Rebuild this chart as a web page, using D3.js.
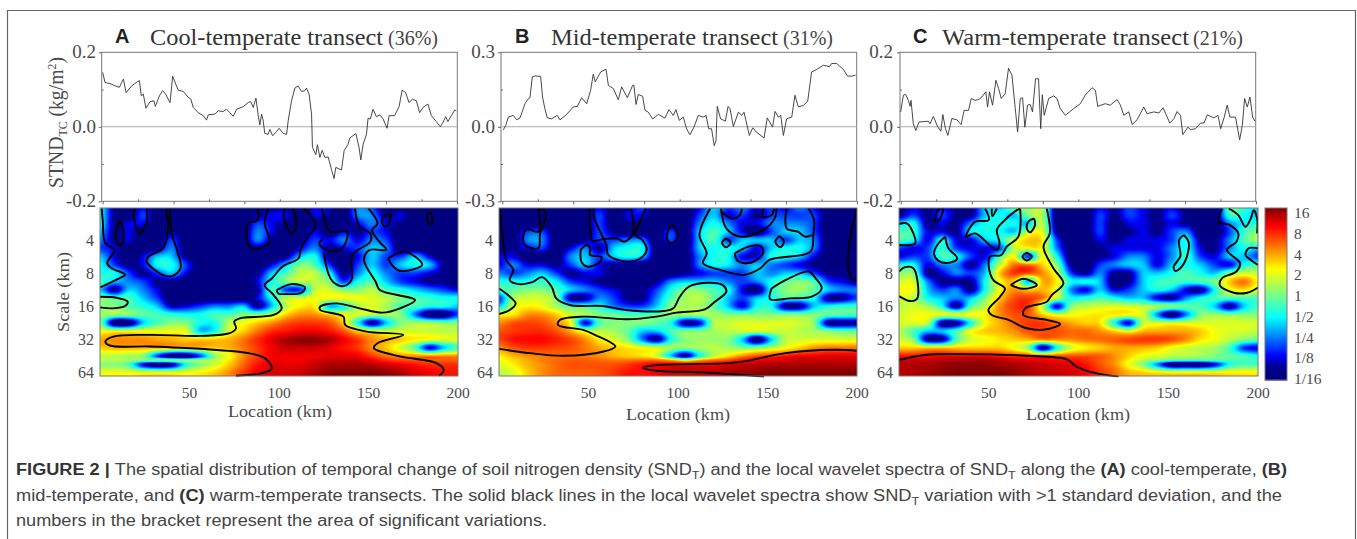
<!DOCTYPE html>
<html><head><meta charset="utf-8">
<script src="https://cdnjs.cloudflare.com/ajax/libs/d3/7.8.5/d3.min.js"></script>
<style>html,body{margin:0;background:#fff;overflow:hidden}svg{display:block}
text{fill:#4a4a4a}.serif{font-family:"Liberation Serif",serif}.sans{font-family:"Liberation Sans",Arial,sans-serif}</style>
</head><body><svg id="fig" width="1357" height="539"></svg>
<script>
// ---------- line series: location (km) and STND_TC value ----------
const locA=[0,1.3,4.1,7,9.4,10.7,11.7,13.2,16.4,19.5,20.7,21.8,22.9,24.4,26.7,28.9,29.7,32,33.8,35.5,38,39.5,41.2,42.7,45.5,48.3,49.8,51.1,53.9,56.8,58.6,59.6,63.3,65.2,68,69.9,71.8,73.7,75.6,79.3,82.1,83.5,85,86.5,87.8,88.7,89.7,90.6,91.5,93.4,94.4,95.9,98.1,99.6,101.9,103.8,104.7,106.6,108.5,110.3,112.2,114.1,115,116.5,117.9,118.4,120.3,121.2,122.6,123.9,125.4,127.3,129.1,130.6,131.6,134.8,136.3,138.5,139.5,142.9,144.7,145.7,147,148.9,149.8,151.1,152.6,154.5,156.4,158.3,160.5,161.7,164.8,167.3,169,171,172.9,174.8,177.1,178.9,180.8,183.6,185.5,188.3,190.6,192.1,193.6,194.9,196.8,198.7,199.6];
const valA=[.146,.119,.116,.110,.106,.119,.128,.092,.110,.121,.124,.083,.088,.050,.067,.070,.055,.083,.097,.088,.065,.136,.115,.098,.095,.079,.074,.052,.038,.030,.018,.032,.034,.043,.041,.047,.038,.028,.047,.054,.065,.068,.052,.077,.030,.005,.034,.016,-.018,-.020,-.007,-.024,-.013,-.004,-.018,-.020,.016,.070,.104,.110,.095,.097,.104,.088,.034,-.055,-.075,-.048,-.082,-.063,-.082,-.081,-.114,-.139,-.109,-.116,-.064,-.047,-.030,-.018,-.055,-.089,-.047,-.020,.023,.021,.047,.027,.032,.021,-.004,.030,.030,.054,.098,.092,.065,.074,.070,.038,.052,.061,.030,.014,0,.012,.027,.014,.030,.045,.043];
const locB=[.6,1.9,3.4,6.2,8.1,10,12.8,14.7,15.6,16.9,18.4,21.6,22.7,24,25.4,27.8,31,32.5,36.3,40,42.3,44.7,47.6,49.8,51.3,52.4,55.5,58.5,59.8,62.6,65.4,67.3,70.5,73.5,74.2,75.4,76.7,79.1,80.5,82.3,84.8,88,91.7,94,96.4,97.9,99.8,102.1,103.9,105.8,108.1,110.5,113.3,114.9,116.4,118,119.5,120.5,121.2,123.1,125.8,127.3,128.4,130.3,133.1,135,136.3,139.3,141.2,143.4,147.6,149.4,152.4,153.8,155.6,157,158.5,160.3,163.2,165,166.9,169.7,172.2,174.4,177.3,181,184.4,185.7,188.5,192.3,194.7,197,199.2];
const valB=[-.012,.005,.039,.046,.028,.036,.093,.113,.117,.201,.205,.203,.120,.073,.036,.032,.046,.028,.050,.080,.082,.117,.093,.147,.212,.181,.221,.232,.167,.154,.109,.161,.117,.167,.167,.090,.130,.123,.066,.059,.032,.050,.035,.069,.046,.069,.026,.039,-.008,-.032,-.001,.046,.039,.046,-.008,-.008,-.076,-.055,.082,.032,.023,.082,.073,.001,.059,.046,.059,-.035,-.004,-.022,-.045,.036,-.001,.062,.039,.046,-.035,.032,.039,.127,.080,.086,.103,.221,.231,.248,.242,.255,.255,.231,.204,.204,.208];
const locC=[0,1.5,2.8,4.3,5.3,5.8,7.1,8.5,10.3,15.6,16.5,18.4,20.7,22.6,23.7,25.2,26.5,28.8,31.6,34,35.7,38.2,39.7,41.9,43.8,45.7,47.9,48.9,50,51.7,53.6,55.1,56.6,58.8,60.7,62.6,64.5,65.8,67.3,68.6,69.9,71.4,72.9,74.2,75.9,77.6,78.8,79.7,80.8,83.3,86.1,88,89.8,92.7,97.4,101.1,103.9,107.7,109.6,110.9,115.2,118,121.8,123.7,125.6,128.4,130.3,133.1,136.8,138.7,142.5,145.3,147.7,151.5,153.8,155.6,157.5,158.8,161.7,163.2,166,168.8,170.7,172.6,176.3,178.6,180.1,182,183.8,185.3,188.5,190.8,192.3,193.6,195.1,196.6,198.1,199.4];
const valC=[.040,.085,.087,.071,.055,.071,.008,-.010,.013,.015,.008,.028,.001,-.012,.033,-.005,-.023,.022,.019,.006,.044,.044,.076,.071,.073,.080,.094,.053,.094,.058,.125,.103,.076,.089,.157,.139,.049,-.014,.076,.078,-.001,.058,.060,.040,.129,.129,-.005,.086,.031,.076,.083,.076,.049,.031,.049,.062,.085,.105,.098,.055,.062,.058,.073,.058,.031,.040,.006,.019,.053,.035,.040,.037,.051,.010,.022,.041,.031,-.021,-.001,-.008,-.005,.010,.010,.032,.024,.031,-.005,.024,.058,.026,.026,-.035,.004,.076,.053,.080,.026,.015];

// ---------- wavelet power: log2(power), rows by log2(scale), columns by location ----------
const gridLoc=[0,8,16,24,32,40,48,56,64,72,80,88,96,104,112,120,128,136,144,152,160,168,176,184,192,200];
const gridLog2Scale=[1,1.25,1.5,1.75,2,2.25,2.5,2.75,3,3.25,3.5,3.75,4,4.25,4.5,4.75,5,5.25,5.5,5.625,5.75,6,6.25];
const powerA=[
[-1,-3.5,-4,-3,-4,-4,-4,-4,-4,-4,-4,-3.5,-3.5,-3.5,-4,-3,-3,-4,-2,-2.5,-4,-4,-4,-4,-4,-4],
[-1,-3.5,-4,-2.5,-4,-4,-4,-4,-4,-4,-4,-3.5,-3,-3,-4,-3,-3.5,-4,-2,-2,-3.5,-3,-4,-3.5,-4,-4],
[-1,-3.5,-3,-3,-4,-4,-4,-4,-4,-4,-4,-2.5,-3,-3.5,-4,-3.5,-4,-4,-3,-2,-3,-3.5,-4,-3.5,-4,-4],
[-1.5,-3.5,-3,-4,-4,-3.5,-4,-4,-4,-4,-4,-2,-3,-4,-4,-3,-4,-3,-3.5,-2.5,-3,-4,-4,-4,-4,-4],
[-2,-3.5,-3,-4,-4,-2.5,-4,-4,-4,-4,-4,-2,-3.5,-4,-3.5,-2.5,-3,-2,-3,-2,-2.5,-4,-4,-4,-4,-4],
[-2.5,-3,-4,-4,-3.5,-2,-4,-4,-4,-4,-4,-3.5,-4,-4,-3,-2,-3.5,-3,-2.5,-1.5,-2,-4,-4,-4,-4,-4],
[-1.5,-3,-4,-3,-1.5,-1.5,-3.5,-4,-4,-4,-4,-4,-4,-3.5,-1.5,-1,-3.5,-4,-3,-1.5,-2.5,-2.5,-1.5,-3,-4,-4],
[-1,-2.5,-3.5,-3,-1,-1,-2.5,-4,-4,-4,-4,-4,-3,-1.5,0,-.5,-2.5,-4,-2.5,-1.5,-2.5,-1.5,-1,-1.5,-3.5,-4],
[-1,-1,-2.5,-3.5,-2.5,-1.5,-3,-4,-4,-4,-4,-3.5,-1.5,-.5,.5,.5,-1,-3.5,-2,-1,-2,-2.5,-2.5,-3,-3.5,-4],
[-.5,-1.5,-2,-2.5,-3.5,-3.5,-4,-4,-4,-4,-4,-3,-1,0,.5,.5,0,-2.5,-1,-.5,-1.5,-2.5,-3,-3.5,-3.5,-4],
[-1.5,-3.5,-1.5,-2,-3,-4,-4,-4,-4,-4,-4,-3.5,-.5,-2.5,-2.5,.5,.7,0,0,.5,-.5,-1,-1.5,-2,-2.5,-3],
[0,-.5,-.5,-1.5,-2.5,-4,-4,-4,-4,-4,-4,-3,-1,.5,.7,1,1,1,1,.8,.5,0,-.5,-.7,-1,-1],
[0,0,-.5,-.8,-1.5,-3.2,-3,-2.5,-2,-2,-1.5,-3.5,-1.5,.5,1.2,1.2,-1.5,-1,.3,.8,.3,-.5,-.5,-1,-1,-1.5],
[.2,.2,0,-.3,-.5,-.8,-1,-1,-.5,-.5,0,0,.5,1.5,2,2,1.5,1,.7,.5,.3,0,-2,-4,-4,-2.5],
[0,-4,-4,-1.5,-.5,0,0,-1,-1,.5,1,1.5,2,2.5,2.7,2.7,2.5,1.5,-1,-3.5,-1.5,0,.3,.3,0,0],
[1,1,1,1,1,1,.8,-1.5,-1,.8,1.5,2.2,2.8,3,3.2,3.2,3,2.5,1.5,1,.7,.7,.7,.6,.5,.5],
[1.8,2,2,2,1.8,1.7,1.5,1.5,1.5,1.7,2.2,2.8,3.3,3.7,3.9,3.9,3.7,3.2,2.7,2,1.7,1.5,1.2,1,.8,.8],
[1.5,1.7,1.7,1.7,1.7,1.5,1.5,1.5,1.5,1.7,2.2,2.7,3.2,3.5,3.5,3.5,3.3,3,2.7,2,1.5,.7,-.5,-3,-1.5,-.5],
[.5,.5,.3,0,-2.5,-4,-4,-2.5,0,1,2,2.7,3.2,3.2,3.2,3.2,3.3,3.3,3.2,2.7,2.2,2,2,2,2,2],
[.5,.5,.3,0,0,0,0,.3,.5,1.3,2.2,2.8,3.2,3.2,3.2,3.4,3.5,3.5,3.5,3.2,2.8,2.6,2.5,2.4,2.4,2.4],
[0,0,-.5,-3,-4,-3.5,-1,0,.7,1.5,2.3,3,3.3,3.3,3.3,3.5,3.7,3.7,3.7,3.6,3.4,3.2,3,2.8,2.8,2.8],
[1,1,1,1,1,1,1,1.2,1.5,2,2.7,3.2,3.4,3.4,3.5,3.7,3.9,4,4,4,3.9,3.7,3.4,3.2,3,3],
[1,1,1,1,1,1,1,1.2,1.5,2,2.7,3.2,3.4,3.4,3.5,3.7,3.9,4,4,4,3.9,3.7,3.4,3.2,3,3]];
const powerB=[
[-4,-4,-4,-3.5,-4,-4,-4,-3,-4,-3.5,-2.5,-4,-4,-4,-3,-1.5,-2.5,-2,-3,-2.5,-3,-2,-3,-4,-4,-3.5],
[-4,-4,-4,-3.5,-4,-4,-4,-2.5,-4,-3,-3,-4,-4,-4,-2.5,-1.5,-3,-2.5,-3.5,-2.5,-2.5,-2.5,-2.5,-4,-4,-3.5],
[-4,-4,-4,-4,-4,-4,-4,-2.5,-4,-3.5,-3.5,-4,-4,-4,-2,-1,-2,-3,-3,-2,-2,-2,-2.5,-4,-4,-3.5],
[-4,-4,-2.5,-2.5,-4,-4,-4,-2.5,-3.5,-4,-4,-4,-2.5,-4,-1.5,-.5,-1.5,-3,-4,-2.5,-1.5,-1.5,-2.5,-4,-4,-4],
[-3.5,-4,-2,-2,-4,-4,-3.5,-2.5,-2.5,-2,-2,-4,-2.5,-4,-1.5,-.5,-2.5,-1.5,-1.5,-1.5,-2.5,-1.5,-2,-4,-4,-4],
[-3.5,-3.5,-3,-2.5,-4,-3,-2,-3.5,-1.5,-1,-1,-4,-4,-4,-1.5,-1,-1,-1.5,-3,-1.5,-1,-1,-2,-4,-4,-4],
[-3,-3,-4,-4,-4,-2,-1.5,-2.5,-1.5,-1,-1.5,-4,-4,-4,-2,-1,-1,-3,-3,-1,-1,-1.5,-3,-4,-4,-4],
[-3,-2,-3,-3,-3.5,-2.5,-1.5,-3,-3.5,-3.5,-4,-4,-4,-4,-2,-1,-1.2,-2,-1.5,-2,-2.5,-3,-3.5,-4,-4,-4],
[-2,-2.5,-2,-1.5,-2.5,-3.5,-3,-3,-3.5,-3.5,-3.5,-4,-4,-3.5,-3,-2.5,-2.5,-2.5,-1.5,-2,-1.5,-1.5,-2.5,-3.5,-3.5,-3.5],
[-1,-1,-1,-.7,-1.2,-2.5,-3,-3.5,-4,-4,-4,-3.5,-2,-1.5,-1.5,-1.5,-2,-2.5,-2,-1,-.3,0,-.5,-2.5,-3,-3.5],
[-.5,-.3,0,0,-.5,-1.5,-2,-2.5,-3,-3.5,-3.5,-2.5,-1,0,0,-.5,-1,-3,-4,-1,0,.2,-.3,-1.5,-2,-2],
[-2.5,.3,.7,.7,0,-3.5,-3.5,-2,-2.5,-3.5,-3.5,-2,-.5,.3,.5,-.3,-1.5,-2.5,-1.5,-1,-.5,-.7,-1,-3.5,-3.5,-2.5],
[-1.5,.7,1.2,1,.3,-.5,-.7,-1,-2,-2.5,-2.5,-1.5,0,.3,.3,-.3,-1.5,-3,-1,-1,-3.5,-3.5,-1.5,-1,-.7,-.7],
[1,1.3,2,2,1.5,.7,.3,0,-.2,-.5,-.5,-.3,.2,.3,.3,.3,0,0,0,0,0,0,0,-.3,-.5,-.5],
[2,2.5,2.6,2.5,2,1,-3,-.5,0,0,0,-.3,-1,-3.5,-3,.3,.6,.8,.8,.8,.8,.6,0,-3.5,-3.5,-3.5],
[2.5,2.7,2.8,2.8,2.5,1.8,.8,.5,.3,-.3,-1.5,-1.5,-.5,0,0,.3,.5,.6,.6,.6,.6,.5,.3,0,-.3,-.3],
[2.6,3,3.1,3.1,2.9,2.6,2,1.2,.8,0,-2,-3.5,-1,0,.2,.2,0,-1.5,-4,-1.5,.5,.7,.8,.8,.8,.8],
[2,2.5,2.7,2.7,2.6,2.5,2.2,1.8,1.5,1.3,1,.8,.3,0,.3,.5,.3,0,0,.5,1,1.5,2,2.2,2.2,2.2],
[1.2,1.7,2,2.2,2.3,2.3,2.2,2,1.7,1.5,1.3,.7,-1.5,-3.5,-1,.5,1.3,2,2.5,2.7,3,3.2,3.2,3.3,3.3,3.3],
[1,1.4,1.8,2.1,2.3,2.4,2.4,2.3,2.2,2.2,2.3,2.3,1.8,1,1.8,2.3,2.6,3,3.2,3.3,3.4,3.5,3.5,3.5,3.5,3.5],
[.8,1.2,1.7,2,2.3,2.5,2.5,2.5,2.5,2.7,3,3.2,3.2,3.2,3.2,3.2,3.4,3.5,3.6,3.7,3.7,3.7,3.7,3.7,3.7,3.7],
[.5,.8,1.5,2,2.3,2.4,2.4,2.5,2.7,3,3,3.2,3.4,3.4,3.5,3.6,3.7,3.8,3.9,4,4,4,4,4,4,4],
[.5,.8,1.5,2,2.3,2.4,2.4,2.5,2.7,3,3,3.2,3.4,3.4,3.5,3.6,3.7,3.8,3.9,4,4,4,4,4,4,4]];
const powerC=[
[-3.5,-3,-3.5,-3,-3.5,-3.5,-1.5,-1.5,0,.2,.3,-4,-4,-4,-3,-3.5,-2.5,-3,-3.5,-3,-4,-4,-4,-.5,-.7,-1.5],
[-3.5,-2.5,-3.5,-2.5,-3.5,-3.5,-1.5,-1,-1.5,0,.3,-4,-4,-4,-2.5,-3.5,-2.5,-3,-3.5,-2.5,-3.5,-4,-4,-.7,-1,-1.5],
[-1.5,-1,-3.5,-3,-3.5,-2,-1,-1,-1,-1.5,.5,-4,-4,-4,-2.5,-4,-3,-3,-3.5,-3,-3.5,-4,-4,-2,-1.2,-.7],
[-.5,-.7,-3,-3,-3.5,-1.2,-1,-1,-1.5,.5,.8,-3.5,-4,-4,-2.5,-4,-3.5,-3,-3.5,-2.5,-2,-4,-4,-2.5,-.7,0],
[-.5,-1,-3,-1,-3,-3,-1.5,-1,.7,1.5,1.2,-2.5,-4,-4,-3,-3.5,-3,-3,-3,-2.5,-1,-3.5,-3.5,-2,-.5,.3],
[-2.5,-3,-2.5,-.7,-2.5,-3,-3,-2.5,.5,1,1,-2,-4,-4,-3.5,-3,-3,-3,-3,-2,-1,-3,-3.5,-2,-1,-1.5],
[-3,-2.5,-2.5,-.5,-1,-2.5,-3,-.5,1,-2.5,1,-1,-4,-4,-3.5,-3,-2,-2,-3,-2,-.7,-2.5,-3,-1.5,-1.5,-2.5],
[-1,-1,-3,-2,-2,-3.5,-2,.5,2.2,2.2,1.5,0,-3.5,-4,-2.5,-2,-1.5,-1.5,-3,-1.5,-1,-1.5,-2.5,-3,-1,-.5],
[0,0,-3.5,-3,-2,-2.5,-1.5,1.5,2.7,2.5,2,.7,-2.5,-3.5,-2,-3.5,-3.5,-1.5,-1.5,-1,-.5,-1,-1.5,0,.7,.5],
[.7,.7,-2,-3.5,-3.5,-3.5,-1,1,1.5,-1.5,1.7,1.2,-1,-1,-1.5,-4,-3.5,-1.5,-.7,-.5,-.7,-.5,0,1.5,2.2,1.2],
[1,1,-1.5,-2.5,-2,-3.5,-1,1,2,1.5,1.7,.8,-2,-3,-1.5,-3,-2.5,-1.5,-1,-1.5,-3,-3.5,-1,.8,1.3,.7],
[.8,.5,-1,-1.5,-2,-1.5,0,1.5,2.5,2.7,2.2,.5,-1,-.8,-.5,-1,-1.5,-1.5,-3,-3.5,-2,-1,-.5,-.5,-.5,-.5],
[.5,.7,.3,-1,-3.5,-.5,.5,2,2.7,2.7,.5,-3,0,.5,.7,.8,.7,.5,.3,0,-.3,-.5,-1.5,-3.5,-1.5,-.5],
[.7,1,1,.8,.8,1,1.2,2,2.5,2.5,1.5,.8,1,1.2,1.3,1.2,1,.7,-2,-4,-2,0,.2,0,0,0],
[.7,.8,.5,-3.5,-3.5,-1,1,1.7,2.3,2.7,2.7,2.2,1.8,1.5,1.3,-1,-3,.5,.7,.8,.8,.8,.8,.8,.8,.7],
[.5,-.5,-1.5,-1.5,-.5,1,1.5,1.7,2,2.5,2.5,2.5,2.3,2.3,2,1.5,1,1.7,1.8,1.8,1.8,1.5,1,.8,.7,.5],
[.7,0,-3.5,-3.5,-.5,.7,1,1.3,1.5,1.7,2,2,2,2.2,2.3,2.4,2.6,2.7,2.7,2.5,2,1.3,1,.5,0,-.3],
[1.5,1.5,1.5,1.5,1.5,1.5,1.5,1.5,1,0,-3.5,-1,.7,1.2,1.5,1.8,1.8,1.7,1.5,1,.7,.5,.3,-.5,-2.5,-3],
[3,3,3,3.2,3.2,3.2,3.2,3,2.7,2.6,2.5,2.5,2.5,2.5,2.4,2,1.5,1,.8,.5,.5,.3,0,-.3,-.5,-1],
[3.5,3.5,3.5,3.6,3.7,3.7,3.7,3.6,3.4,3.3,3.2,3.1,3,2.8,2.4,2,1.2,.5,0,-.5,-.7,-.7,-.5,-.5,-.5,-.7],
[3.6,3.7,3.7,3.8,3.9,3.9,3.9,3.8,3.7,3.6,3.5,3.4,3.3,3,2.5,2,1,0,-2,-4,-4,-4,-3,-1,-.5,-.5],
[3.6,3.7,3.8,3.9,4,4,4,4,3.9,3.7,3.6,3.5,3.4,3.2,2.7,2.3,1.7,1.5,1.3,1.2,1.2,1.2,1.2,1.2,1.2,1.2],
[3.6,3.7,3.8,3.9,4,4,4,4,3.9,3.7,3.6,3.5,3.4,3.2,2.7,2.3,1.7,1.5,1.3,1.2,1.2,1.2,1.2,1.2,1.2,1.2]];

// ---------- significance contours: [location km, log2 scale] ----------
const contoursA=[
[[1,1.05],[1.5,1.4],[3,2.1],[8,2.3],[4,2.7],[6.5,2.85],[14,3.05],[9,3.2],[0,3.43]],
[[11,1.4],[13,1.7],[13,2.05],[11,2.15],[9,2],[9.3,1.65],[11,1.4]],
[[19,1.05],[19,1.35],[22,1.8],[26,1.5],[26,1.05]],
[[37,1.05],[38,1.7],[35,2.25],[27,2.5],[26,2.65],[35,3.05],[40,3.09],[45,2.85],[43,2.3],[40,1.8],[39,1.05]],
[[88,1.05],[88,1.4],[83,1.5],[82.5,2.1],[86,2.27],[93,2.15],[95,2.05],[92,1.5],[94,1.05]],
[[103,1.05],[103,1.4],[107,1.8],[109.6,1.6],[108,1.05]],
[[114,1.05],[120,1.45],[120,1.65],[116,1.9],[112,2.3],[111,2.55],[102,2.8],[96,3.16],[92,3.36],[97,3.66],[101.5,4.06],[97,4.26],[78,4.36],[75,4.46],[76,4.66],[72.5,4.81],[56,4.89],[28,4.86],[7.5,4.91],[3,5.06],[5.5,5.18],[28,5.21],[56,5.28],[83,5.41],[92,5.56],[96,5.87],[90,6.02],[76,6.09]],
[[124,1.05],[126,1.5],[128.5,1.75],[138,1.75],[136,2.2],[131,2.33],[125.6,2.28],[122.5,2.1],[124.5,1.98]],
[[125,2.4],[127.5,3],[130,3.25],[136,3.39],[140.5,3.2],[141,2.45],[151,2.05],[151,1.8],[145,1.6],[142.5,1.05]],
[[150,1.05],[155,1.5],[152,1.7],[156,2.05],[160,2.3],[150.6,2.3],[147.5,2.6],[154,3.26],[156.4,3.51],[176,3.81],[167.6,4.06],[158,4.19],[145,4.06],[132,3.91],[123,4.01],[123,4.11],[136,4.31],[137,4.56],[149,4.76],[169.5,4.86],[155,5.11],[153,5.26],[167.6,5.51],[188,5.71],[192,5.92],[189.5,6.09]],
[[158,1.3],[162,1.2],[162,1.4],[160,1.6],[157.6,1.5],[158,1.3]],
[[184,1.15],[185.6,1.3],[185,1.55],[183,1.45],[182.8,1.25],[184,1.15]],
[[161,2.55],[169.6,2.35],[176,2.5],[180,2.75],[175.5,2.88],[167,2.92],[163,2.75],[161,2.55]],
[[98.7,3.51],[107,3.33],[114.5,3.43],[112.6,3.59],[104,3.63],[99.6,3.61],[98.7,3.51]],
[[0,3.71],[9.3,3.74],[15.5,3.86],[14,3.99],[7.4,4.06],[0,4.03]]];
const contoursB=[
[[.5,1.05],[2,1.9],[4,2.6],[8,2.9],[6,3.21],[11,3.33],[19,3.26],[24,3.12],[29.4,3.41],[32,3.76],[39.6,3.96],[58,3.99],[71,4.11],[92,4.14],[97.4,4.06],[101,3.71],[106,3.41],[116,3.29],[125,3.36],[127,3.56],[120.6,3.86],[115,4.09],[99,4.19],[88,4.31],[71,4.39],[47,4.31],[34,4.41],[33,4.56],[47,4.71],[53.6,4.86],[65,5.21],[58.5,5.36],[36,5.49],[17.3,5.41],[0,5.28]],
[[0,3.46],[5,3.66],[9.3,3.91],[6,4.11],[0,4.23]],
[[25.7,1.1],[22,1.1],[22.9,1.4],[22,1.75],[15.5,1.68],[13.6,1.85],[14.5,2.15],[22,2.25],[23,1.8],[26.3,1.3],[25.7,1.1]],
[[50.5,1.05],[51,1.65],[52,2.02],[58,1.98],[65.7,1.95],[70,2.05],[75,1.8],[73.7,1.05]],
[[53,1.05],[53,1.3],[57,1.8],[60,2.15],[61,2.45],[71,2.65],[79,2.55],[82.5,2.3],[80,2],[76,1.85],[78,1.55],[82,1.05]],
[[45.6,2.3],[49,2.15],[51,2.25],[50.8,2.45],[57.4,2.52],[55.5,2.7],[49,2.8],[46,2.65],[45.6,2.3]],
[[96.5,1.55],[99,1.7],[99.6,1.95],[96.5,2.1],[94,2],[94.6,1.7],[96.5,1.55]],
[[118,1.05],[112,1.85],[116,2.4],[114,2.7],[123.5,2.9],[137,3.05],[146,2.85],[151,2.6],[174,2.35],[175.6,1.85],[176,1.4],[173,1.05]],
[[124,1.05],[127,1.65],[135,1.9],[147.7,1.7],[154,1.35],[155,1.05]],
[[124.4,1.15],[130,1.35],[134.6,1.25],[135.6,1.05]],
[[147.7,1.05],[147.3,1.3],[152.3,1.25],[153.6,1.05]],
[[160.7,1.05],[160.7,1.65],[167,1.75],[171,1.9],[174.7,1.85]],
[[126.8,1.95],[129.4,2.08],[126.8,2.22],[124.6,2.08],[126.8,1.95]],
[[131.8,2.4],[139.3,2.2],[145.8,2.17],[147.7,2.35],[144,2.6],[137.4,2.7],[132.8,2.6],[131.8,2.4]],
[[156.6,1.88],[159.2,2.05],[157,2.22],[154.4,2.05],[156.6,1.88]],
[[152.3,3.46],[160,3.21],[173,2.95],[176.8,3.15],[180.3,3.46],[174.7,3.71],[162.6,3.76],[151.4,3.78],[152.3,3.46]],
[[200,1.05],[196,2],[195,2.8],[197,3.15],[200,3.21]],
[[148,6.12],[114,5.99],[88,5.94],[80,5.85],[88,5.77],[133,5.69],[160,5.41],[187,5.31],[200,5.34]]];
const contoursC=[
[[0,1.52],[4.3,1.5],[8,1.8],[9,2.1],[0,2.15]],
[[22,1.05],[24.4,1.05],[23,1.35],[20.6,1.45],[20.6,1.25],[22,1.05]],
[[25.7,1.9],[27.5,2.25],[32.5,2.55],[28.4,2.68],[22,2.63],[19.5,2.4],[22,2.1],[25.7,1.9]],
[[48,1.05],[50,1.4],[42.4,1.45],[37.4,1.9],[42.4,1.8],[54.5,2.3],[56,2.1],[54.5,1.7],[58,1.45],[65.6,1.1],[67.5,1.05]],
[[51.7,1.05],[52,1.28],[54.5,1.05]],
[[75.3,1.35],[75.8,1.55],[73,1.77],[71.2,1.65],[72,1.45],[75.3,1.35]],
[[71.2,2.38],[74,2.5],[71.2,2.62],[68.8,2.5],[71.2,2.38]],
[[62.3,3.36],[69.3,3.17],[76.8,3.36],[69.3,3.47],[62.3,3.36]],
[[67.5,1.05],[66.5,1.9],[60,2.2],[57,2.45],[50.7,2.5],[50,2.8],[52.6,3.21],[59,3.46],[56.3,3.71],[49.8,4.11],[51.7,4.26],[61,4.41],[71.2,4.66],[82.3,4.69],[89.8,4.53],[82.3,4.41],[69.3,4.26],[70.3,4.06],[82.3,3.86],[85.1,3.66],[91.6,3.31],[86,2.85],[80.5,2.2],[84,1.8],[82.3,1.05]],
[[0,2.95],[3.3,2.82],[8,2.85],[10.8,3.61],[9.8,3.79],[6.1,3.84],[0,3.69]],
[[158.6,1.85],[161.3,2.05],[160.4,2.5],[156.7,2.85],[153.9,2.93],[153,2.8],[156.7,2.5],[156,2],[158.6,1.85]],
[[180,1.05],[178,1.45],[184.4,1.55],[189,1.8],[188,2.05],[182.7,2.3],[190,2.7],[188,2.95],[180,3.15],[178.7,3.36],[186.5,3.59],[194,3.59],[200,3.43]],
[[183.7,1.05],[189,1.25],[193,1.6],[196,1.35],[197.6,1.1],[199.5,1.35],[199.5,1.8]],
[[200,2.25],[194.8,2.25],[193,2.45],[196,2.6],[200,2.75]],
[[0,5.62],[15.4,5.46],[34,5.44],[71.2,5.49],[93.5,5.6],[99,5.82],[108.4,6],[122.3,6.12]]];

// ---------- labels ----------
const panelLetters=["A","B","C"];
const panelTitles=["Cool-temperate transect","Mid-temperate transect","Warm-temperate transect"];
const panelShares=["(36%)","(31%)","(21%)"];
const yTickLabels=[["0.2","0.0","-0.2"],["0.3","0.0","-0.3"],["0.2","0.0","-0.2"]];
const yLimits=[0.2,0.3,0.2];
const scaleTicks=[4,8,16,32,64];
const locationTicks=[50,100,150,200];
const barTicks=[[4,"16"],[3,"8"],[2,"4"],[1,"2"],[0,"1"],[-1,"1/2"],[-2,"1/4"],[-3,"1/8"],[-4,"1/16"]];

// ---------- layout ----------
const panels=[
 {frame:[101.7,457.3],lineX:[102.7,457],heat:[100,458],letter:115,title:150,titleW:233,share:388,tick:96,scaleTick:94,label:280,labelY:417,line:[locA,valA],power:powerA,contours:contoursA},
 {frame:[501,856.7],lineX:[502.3,857],heat:[499,857],letter:515,title:551,titleW:227,share:783,tick:495,scaleTick:493,label:678,labelY:420,line:[locB,valB],power:powerB,contours:contoursB},
 {frame:[900,1255.7],lineX:[900.7,1256],heat:[899,1258],letter:913,title:942,titleW:247,share:1193,tick:893,scaleTick:893,label:1078,labelY:420,line:[locC,valC],power:powerC,contours:contoursC}];
const jet=d3.scaleLinear()
 .domain([-4,-3.4,-2.9,-1.12,0,1.12,3.12,4])
 .range(["#000080","#00008c","#0000ff","#00ffff","#80ff80","#ffff00","#ff0000","#800000"])
 .clamp(true);
const yScale=d3.scaleLog().base(2).domain([4,64]).range([240,372.7]);
const heatTop=208,heatBottom=376;
const svg=d3.select("#fig");

// catmull-rom sampling of the value grid, used only for pixel rendering
function cr(a,b,c,d,t){return .5*(2*b+(c-a)*t+(2*a-5*b+4*c-d)*t*t+(3*b-a-3*c+d)*t*t*t);}
function sample(grid,col,row){
  const nr=grid.length,nc=grid[0].length;
  const r0=Math.floor(row),c0=Math.floor(col),tr=row-r0,tc=col-c0;
  const at=(r,c)=>grid[Math.max(0,Math.min(nr-1,r))][Math.max(0,Math.min(nc-1,c))];
  const rows=[-1,0,1,2].map(i=>cr(at(r0+i,c0-1),at(r0+i,c0),at(r0+i,c0+1),at(r0+i,c0+2),tc));
  return cr(rows[0],rows[1],rows[2],rows[3],tr);
}

// outer figure frame
svg.append("path").attr("d","M7.5,540V10.5H1355.5V540").attr("fill","none").attr("stroke","#666").attr("stroke-width",1.2);

panels.forEach((p,i)=>{
  // titles
  svg.append("text").attr("class","sans").attr("x",p.letter).attr("y",43).attr("font-size",20).attr("font-weight",700).style("fill","#222").text(panelLetters[i]);
  svg.append("text").attr("class","serif").attr("x",p.title).attr("y",45).attr("font-size",24).attr("textLength",p.titleW).attr("lengthAdjust","spacingAndGlyphs").style("fill","#333").text(panelTitles[i]);
  svg.append("text").attr("class","serif").attr("x",p.share).attr("y",45).attr("font-size",20).style("fill","#444").text(panelShares[i]);

  // line chart
  const lim=yLimits[i];
  const x=d3.scaleLinear().domain([0,200]).range(p.lineX);
  const y=d3.scaleLinear().domain([-lim,lim]).range([201.3,52.3]);
  const g=svg.append("g");
  g.append("rect").attr("x",p.frame[0]).attr("y",52.3).attr("width",p.frame[1]-p.frame[0]).attr("height",149).attr("fill","none").attr("stroke","#777").attr("stroke-width",1);
  g.append("line").attr("x1",p.frame[0]).attr("x2",p.frame[1]).attr("y1",y(0)).attr("y2",y(0)).attr("stroke","#aaa").attr("stroke-width",1.1);
  const ax=g.append("g").attr("transform","translate(0,201.3)").call(d3.axisBottom(x).tickValues(d3.range(0,201,40)).tickSize(3).tickFormat(""));
  const ax2=g.append("g").attr("transform","translate(0,201.3)").call(d3.axisTop(x).tickValues(d3.range(20,200,40)).tickSize(2).tickFormat(""));
  [ax,ax2].forEach(a=>{a.select(".domain").remove();a.selectAll("line").attr("stroke","#666");});
  const ay=g.append("g").attr("transform",`translate(${p.frame[0]},0)`).call(d3.axisLeft(y).tickValues([-lim,0,lim]).tickSize(3).tickFormat(""));
  const ay2=g.append("g").attr("transform",`translate(${p.frame[0]},0)`).call(d3.axisRight(y).tickValues([-lim/2,lim/2]).tickSize(2).tickFormat(""));
  [ay,ay2].forEach(a=>{a.select(".domain").remove();a.selectAll("line").attr("stroke","#666");});
  [lim,0,-lim].forEach((v,j)=>g.append("text").attr("class","serif").attr("x",p.tick).attr("y",y(v)+6).attr("text-anchor","end").attr("font-size",19).text(yTickLabels[i][j]));
  const [locs,vals]=p.line;
  g.append("path").attr("fill","none").attr("stroke","#333").attr("stroke-width",.9).attr("stroke-linejoin","round")
   .attr("d",d3.line().x(d=>x(d)).y((d,k)=>y(vals[k]))(locs));

  // wavelet heat map
  const hx=d3.scaleLinear().domain([0,200]).range(p.heat);
  const W=p.heat[1]-p.heat[0],H=heatBottom-heatTop;
  const cv=document.createElement("canvas");cv.width=W;cv.height=H;
  const ctx=cv.getContext("2d");const im=ctx.createImageData(W,H);
  const colOf=d3.scaleLinear().domain(d3.extent(gridLoc)).range([0,gridLoc.length-1]);
  const rowOf=d3.scaleLinear().domain(gridLog2Scale).range(gridLog2Scale.map((d,k)=>k));
  for(let py=0;py<H;py++){
    const l=Math.log2(yScale.invert(heatTop+py+.5));
    for(let px=0;px<W;px++){
      const v=sample(p.power,colOf(hx.invert(p.heat[0]+px+.5)),rowOf(l));
      const c=d3.rgb(jet(v)),o=(py*W+px)*4;
      im.data[o]=c.r;im.data[o+1]=c.g;im.data[o+2]=c.b;im.data[o+3]=255;
    }
  }
  ctx.putImageData(im,0,0);
  const clip="clip"+i;
  svg.append("clipPath").attr("id",clip).append("rect").attr("x",p.heat[0]).attr("y",heatTop).attr("width",W).attr("height",H+1.5);
  svg.append("image").attr("x",p.heat[0]).attr("y",heatTop).attr("width",W).attr("height",H).attr("href",cv.toDataURL());
  svg.append("g").attr("clip-path",`url(#${clip})`).selectAll("path").data(p.contours).join("path")
    .attr("fill","none").attr("stroke","#000").attr("stroke-width",1.9).attr("stroke-linejoin","round")
    .attr("d",d3.line().x(d=>hx(d[0])).y(d=>yScale(2**d[1])).curve(d3.curveCatmullRom.alpha(.5)));
  svg.append("rect").attr("x",p.heat[0]).attr("y",heatTop).attr("width",W).attr("height",H).attr("fill","none").attr("stroke","#777").attr("stroke-width",1);
  scaleTicks.forEach(s=>svg.append("text").attr("class","serif").attr("x",p.scaleTick).attr("y",yScale(s)+5.5).attr("text-anchor","end").attr("font-size",16).text(s));
  locationTicks.forEach(k=>svg.append("text").attr("class","serif").attr("x",hx(k)).attr("y",398).attr("text-anchor","middle").attr("font-size",15.5).text(k));
  svg.append("text").attr("class","serif").attr("x",p.label).attr("y",p.labelY).attr("text-anchor","middle").attr("font-size",17).attr("textLength",104).attr("lengthAdjust","spacingAndGlyphs").text("Location (km)");
});

// y-axis titles
const yt=svg.append("text").attr("class","serif").attr("transform","translate(63,188) rotate(-90)").attr("font-size",20).attr("textLength",131).attr("lengthAdjust","spacingAndGlyphs");
yt.append("tspan").text("STND");
yt.append("tspan").attr("dy",4).attr("font-size",12).text("TC");
yt.append("tspan").attr("dy",-4).text(" (kg/m");
yt.append("tspan").attr("dy",-7).attr("font-size",12).text("2");
yt.append("tspan").attr("dy",7).text(")");
svg.append("text").attr("class","serif").attr("transform","translate(69,332) rotate(-90)").attr("font-size",17).attr("textLength",80).attr("lengthAdjust","spacingAndGlyphs").text("Scale (km)");

// color bar
const barY=d3.scaleLinear().domain([-4,4]).range([380,208]);
const barSteps=d3.range(-4,4,8/86);
svg.append("g").selectAll("rect").data(barSteps).join("rect")
  .attr("x",1265).attr("width",22).attr("y",d=>barY(d+8/86)).attr("height",d=>barY(d)-barY(d+8/86)+.5).attr("fill",d=>jet(d));
svg.append("rect").attr("x",1265).attr("y",208).attr("width",22).attr("height",172).attr("fill","none").attr("stroke","#777").attr("stroke-width",1);
const barLabelY=d3.scaleLinear().domain([-4,4]).range([384,218]);
svg.append("g").selectAll("text").data(barTicks).join("text").attr("class","serif").attr("x",1294).attr("y",d=>barLabelY(d[0])).attr("font-size",15.5).text(d=>d[1]);

// caption
const captionLines=[
 {y:475,w:1271,parts:[["b","FIGURE 2 | "],["","The spatial distribution of temporal change of soil nitrogen density (SND"],["s","T"],["",") and the local wavelet spectra of SND"],["s","T"],[""," along the "],["b","(A)"],[""," cool-temperate, "],["b","(B)"]]},
 {y:501,w:1266,parts:[["","mid-temperate, and "],["b","(C)"],[""," warm-temperate transects. The solid black lines in the local wavelet spectra show SND"],["s","T"],[""," variation with >1 standard deviation, and the"]]},
 {y:526,w:531,parts:[["","numbers in the bracket represent the area of significant variations."]]}];
captionLines.forEach(l=>{
  const t=svg.append("text").attr("class","sans").attr("x",16).attr("y",l.y).attr("font-size",16).attr("textLength",l.w).attr("lengthAdjust","spacingAndGlyphs").style("fill","#444");
  let sub=false;
  l.parts.forEach(([k,s])=>{
    const ts=t.append("tspan").text(s);
    if(k==="b")ts.attr("font-weight",700).style("fill","#333");
    if(k==="s"){ts.attr("font-size",11).attr("dy",4);sub=true;}
    else if(sub){ts.attr("dy",-4);sub=false;}
  });
});
</script></body></html>
